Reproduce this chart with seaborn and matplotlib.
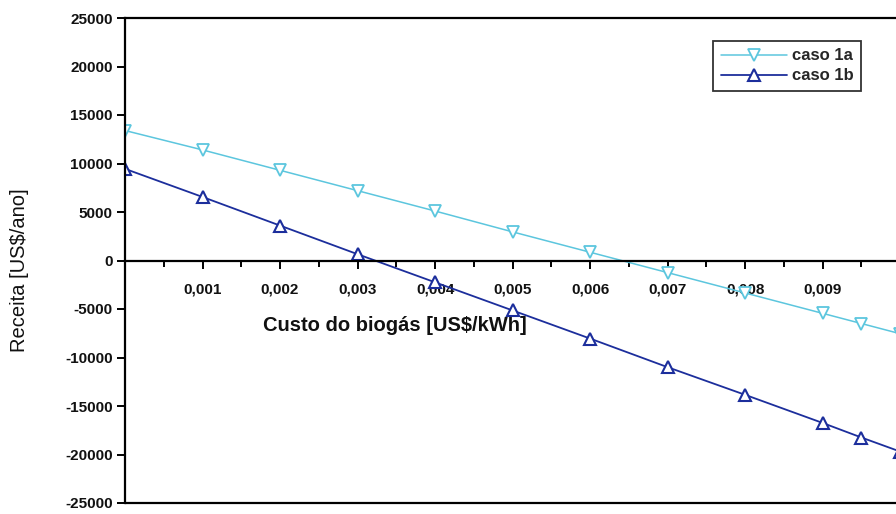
import matplotlib
matplotlib.use("Agg")
import matplotlib.pyplot as plt
import seaborn as sns
import numpy as np
import pandas as pd
from matplotlib.ticker import FixedLocator, FuncFormatter

# Custo do biogás [US$/kWh]
custo = [0.0, 0.001, 0.002, 0.003, 0.004, 0.005, 0.006, 0.007, 0.008, 0.009, 0.0095, 0.01]
# Receita [US$/ano]
caso_1a = [13400, 11400, 9300, 7200, 5100, 2950, 850, -1250, -3350, -5450, -6500, -7550]
caso_1b = [9450, 6550, 3600, 650, -2250, -5150, -8050, -11000, -13850, -16750, -18250, -19700]

x_ticks = [0.001, 0.002, 0.003, 0.004, 0.005, 0.006, 0.007, 0.008, 0.009]
x_tick_labels = ["0,001", "0,002", "0,003", "0,004", "0,005", "0,006", "0,007", "0,008", "0,009"]
y_ticks = [25000, 20000, 15000, 10000, 5000, 0, -5000, -10000, -15000, -20000, -25000]

df = pd.DataFrame({"custo": custo, "caso 1a": caso_1a, "caso 1b": caso_1b})

sns.set_theme(style="white")
plt.rcParams["font.family"] = ["Liberation Sans", "DejaVu Sans"]

fig = plt.figure(figsize=(8.96, 5.14), dpi=100)
ax = fig.add_axes([125 / 896, 11 / 514, 814 / 896, 485 / 514])

light = "#5cc6de"
dark = "#1c2e9c"

sns.lineplot(data=df, x="custo", y="caso 1a", ax=ax, color=light, lw=1.1,
             marker="v", markersize=9, markerfacecolor="white",
             markeredgecolor=light, markeredgewidth=1.3, label="caso 1a")
sns.lineplot(data=df, x="custo", y="caso 1b", ax=ax, color=dark, lw=1.3,
             marker="^", markersize=9, markerfacecolor="white",
             markeredgecolor=dark, markeredgewidth=1.5, label="caso 1b")

ax.set_xlim(0, 0.0105)
ax.set_ylim(-25000, 25000)

# horizontal axis crosses at zero; frame kept at top and bottom
for side in ("left", "top", "bottom"):
    ax.spines[side].set_color("black")
    ax.spines[side].set_linewidth(1.6)
ax.spines["right"].set_visible(False)
ax.spines["bottom"].set_position(("data", 0))
ax.axhline(-25000, color="black", lw=1.6, clip_on=False, zorder=5)

ax.xaxis.set_major_locator(FixedLocator(x_ticks))
ax.xaxis.set_minor_locator(FixedLocator([0.0005 + 0.001 * i for i in range(10)]))
ax.set_xticklabels(x_tick_labels)
ax.yaxis.set_major_locator(FixedLocator(y_ticks))
ax.yaxis.set_major_formatter(FuncFormatter(lambda v, p: f"{int(v)}"))

ax.tick_params(axis="x", which="major", direction="out", length=6, width=1.4,
               color="black", pad=10, labelsize=11, bottom=True)
ax.tick_params(axis="x", which="minor", direction="out", length=4, width=1.4,
               color="black", bottom=True)
ax.tick_params(axis="y", which="major", direction="out", length=6, width=1.4,
               color="black", pad=3, labelsize=11, left=True)
for lab in ax.get_xticklabels() + ax.get_yticklabels():
    lab.set_fontweight("bold")
    lab.set_color("#111111")

ax.set_xlabel("Custo do biogás [US$/kWh]", fontsize=14.5, fontweight="bold", color="#111111")
ax.xaxis.set_label_coords(0.332, 0.385)
ax.set_ylabel("Receita [US$/ano]", fontsize=14.5, color="#111111")
ax.yaxis.set_label_coords(-0.118, 0.48)

leg = ax.legend(loc="upper left", bbox_to_anchor=((713 - 125) / 814, (503 - 41) / 485),
                frameon=True, fancybox=False, shadow=False, borderpad=0.45,
                handlelength=4.0, handletextpad=0.3, labelspacing=0.3,
                borderaxespad=0, prop={"weight": "bold", "size": 12})
leg.get_frame().set_edgecolor("black")
leg.get_frame().set_linewidth(1.3)

fig.savefig("out.png", dpi=100, facecolor="white")
